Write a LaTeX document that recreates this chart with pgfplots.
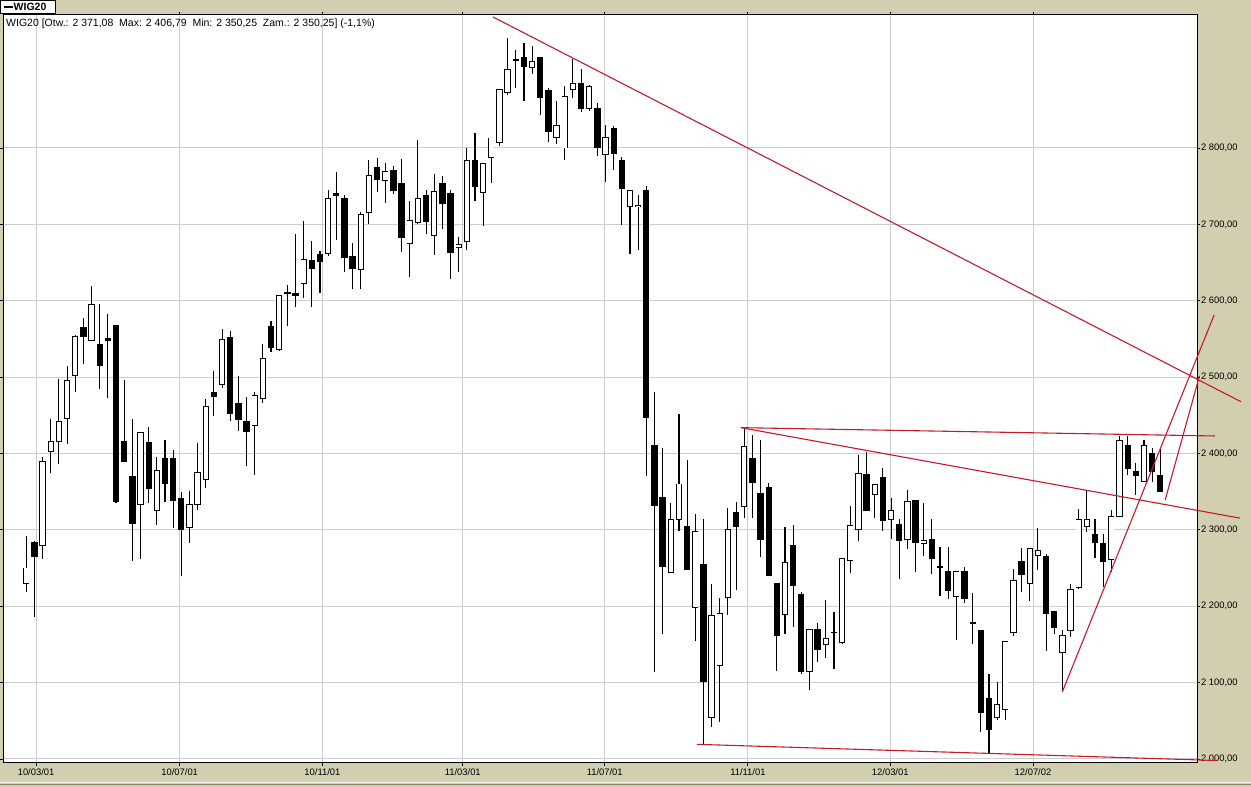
\documentclass[border=0pt]{standalone}
\usepackage{pgfplots}
\pgfplotsset{compat=1.18}
\usepackage{pgfplotstable}
\usepackage{fontspec}
\setmainfont{Liberation Sans}
\definecolor{bgbeige}{RGB}{210,206,176}
\definecolor{gridgray}{RGB}{205,205,205}
\definecolor{trendred}{RGB}{200,25,40}

\pgfplotstableread{
i O H L C
1 2230 2292 2218 2250
2 2283 2286 2186 2265
3 2280 2396 2262 2390
4 2403 2445 2374 2416
5 2416 2498 2386 2442
6 2446 2514 2412 2496
7 2502 2555 2481 2553
8 2565 2577 2517 2553
9 2548 2619 2548 2595
10 2543 2596 2484 2515
11 2551 2583 2473 2548
12 2567 2568 2335 2337
13 2416 2496 2390 2390
14 2370 2445 2259 2308
15 2333 2428 2262 2428
16 2415 2435 2335 2354
17 2325 2395 2307 2378
18 2393 2418 2337 2361
19 2394 2404 2302 2339
20 2341 2349 2239 2300
21 2303 2351 2283 2333
22 2333 2414 2326 2375
23 2366 2471 2355 2461
24 2480 2508 2449 2474
25 2490 2563 2486 2549
26 2552 2561 2442 2452
27 2465 2502 2429 2444
28 2442 2474 2383 2429
29 2437 2480 2372 2476
30 2472 2543 2466 2524
31 2566 2573 2533 2539
32 2536 2607 2534 2607
33 2611 2620 2567 2610
34 2609 2687 2592 2607
35 2622 2704 2604 2654
36 2653 2678 2592 2642
37 2661 2665 2610 2651
38 2662 2745 2659 2734
39 2740 2769 2680 2738
40 2734 2739 2637 2656
41 2658 2675 2615 2642
42 2641 2716 2615 2713
43 2716 2784 2700 2764
44 2775 2787 2742 2759
45 2758 2780 2728 2769
46 2771 2776 2740 2744
47 2754 2785 2664 2683
48 2675 2731 2631 2705
49 2702 2810 2700 2734
50 2738 2745 2687 2704
51 2685 2766 2660 2743
52 2754 2763 2694 2727
53 2741 2745 2628 2663
54 2670 2684 2638 2673
55 2677 2800 2667 2783
56 2784 2820 2730 2749
57 2742 2779 2698 2779
58 2788 2813 2754 2813
59 2807 2877 2802 2877
60 2873 2944 2869 2903
61 2915 2928 2878 2916
62 2918 2937 2862 2907
63 2905 2933 2897 2913
64 2919 2919 2843 2866
65 2875 2878 2808 2822
66 2814 2862 2805 2829
67 2800 2881 2784 2867
68 2876 2917 2865 2884
69 2884 2903 2847 2852
70 2852 2883 2849 2880
71 2852 2859 2790 2801
72 2792 2830 2755 2814
73 2826 2829 2771 2793
74 2783 2788 2699 2747
75 2723 2744 2661 2744
76 2723 2738 2667 2725
77 2744 2750 2370 2447
78 2411 2480 2114 2332
79 2343 2407 2163 2252
80 2244 2335 2244 2314
81 2314 2452 2299 2360
82 2305 2391 2248 2248
83 2198 2321 2154 2298
84 2254 2314 2019 2101
85 2054 2229 2042 2188
86 2122 2211 2049 2191
87 2211 2329 2189 2301
88 2323 2336 2221 2305
89 2331 2434 2315 2409
90 2393 2424 2315 2362
91 2348 2418 2265 2288
92 2356 2361 2240 2240
93 2230 2230 2115 2162
94 2189 2304 2164 2257
95 2279 2306 2173 2227
96 2216 2219 2111 2115
97 2114 2169 2090 2169
98 2169 2178 2127 2144
99 2150 2208 2132 2158
100 2165 2192 2118 2166
101 2152 2262 2150 2262
102 2260 2331 2243 2306
103 2300 2398 2286 2374
104 2372 2402 2325 2325
105 2346 2359 2316 2359
106 2369 2381 2298 2312
107 2314 2342 2288 2325
108 2307 2314 2236 2286
109 2287 2352 2275 2337
110 2338 2338 2245 2284
111 2282 2335 2266 2286
112 2287 2314 2242 2262
113 2252 2278 2213 2251
114 2245 2277 2209 2221
115 2213 2245 2156 2245
116 2246 2252 2204 2210
117 2179 2217 2150 2178
118 2168 2168 2035 2061
119 2079 2111 2008 2038
120 2054 2101 2051 2071
121 2065 2154 2051 2154
122 2166 2249 2161 2234
123 2259 2276 2218 2241
124 2230 2276 2207 2276
125 2266 2303 2248 2273
126 2265 2268 2142 2190
127 2193 2193 2163 2172
128 2140 2169 2088 2162
129 2168 2229 2160 2222
130 2225 2327 2223 2314
131 2304 2351 2297 2314
132 2294 2314 2263 2283
133 2282 2294 2225 2258
134 2261 2326 2245 2317
135 2318 2423 2318 2417
136 2410 2423 2372 2380
137 2376 2388 2345 2371
138 2363 2417 2363 2411
139 2400 2407 2363 2376
140 2371.08 2406.79 2350.25 2350.25
}\candles

\begin{document}
\begin{tikzpicture}[x=1bp,y=1bp]
\useasboundingbox (0,0) rectangle (1251,787);
\fill[bgbeige] (0,0) rectangle (1251,787);
\draw[white!80!bgbeige, line width=1.6bp] (0,4.5) -- (1251,4.5);
\draw[black!35!bgbeige, line width=1bp] (0,2.8) -- (1251,2.8);
\begin{axis}[
  at={(3bp,24bp)}, anchor=south west,
  width=1194bp, height=748bp, scale only axis,
  xmin=-1.856, xmax=144.5, ymin=1994.76, ymax=2974.1,
  axis background/.style={fill=white},
  clip=false,
  xtick={2.2,19.8,37.3,54.5,71.9,89.45,106.9,124.4},
  xticklabels={10/03/01,10/07/01,10/11/01,11/03/01,11/07/01,11/11/01,12/03/01,12/07/02},
  ytick={2000,2100,2200,2300,2400,2500,2600,2700,2800},
  yticklabels={{2 000,00},{2 100,00},{2 200,00},{2 300,00},{2 400,00},{2 500,00},{2 600,00},{2 700,00},{2 800,00}},
  yticklabel pos=right,
  tick align=outside, major tick length=3bp,
  tick style={black, line width=0.8bp},
  grid=major, major grid style={gridgray, line width=1bp},
  axis line style={black, line width=1bp},
  ticklabel style={font=\fontsize{9.4bp}{11bp}\selectfont, text=black},
  yticklabel style={anchor=west, xshift=-2.5bp},
  xticklabel style={yshift=1bp},
]
% wicks
\addplot[draw=none, mark=none, forget plot,
  error bars/.cd, y dir=plus, y explicit, error mark=none,
  error bar style={draw=black, line width=1.1bp}]
  table[x=i, y=L, y error plus expr=\thisrow{H}-\thisrow{L}] {\candles};
% down bodies (black)
\addplot[draw=none, mark=none, forget plot,
  restrict expr to domain={\thisrow{O}-\thisrow{C}}{0.0001:10000},
  error bars/.cd, y dir=plus, y explicit, error mark=none,
  error bar style={draw=black, line width=6.3bp, shorten <=-0.5bp, shorten >=-0.5bp}]
  table[x=i, y=C, y error plus expr=\thisrow{O}-\thisrow{C}] {\candles};
% up bodies outline
\addplot[draw=none, mark=none, forget plot,
  restrict expr to domain={\thisrow{C}-\thisrow{O}}{0:10000},
  error bars/.cd, y dir=plus, y explicit, error mark=none,
  error bar style={draw=black, line width=6.3bp, shorten <=-0.5bp, shorten >=-0.5bp}]
  table[x=i, y=O, y error plus expr=\thisrow{C}-\thisrow{O}] {\candles};
% up bodies inside
\addplot[draw=none, mark=none, forget plot,
  restrict expr to domain={\thisrow{C}-\thisrow{O}}{2:10000},
  error bars/.cd, y dir=plus, y explicit, error mark=none,
  error bar style={draw=white, line width=4.5bp, shorten <=0.45bp, shorten >=0.45bp}]
  table[x=i, y=O, y error plus expr=\thisrow{C}-\thisrow{O}] {\candles};
% trend lines
\addplot[trendred, line width=1.1bp, mark=none, forget plot] coordinates {(58.2,2971.5) (149.9,2467.7)};
\addplot[trendred, line width=1.1bp, mark=none, forget plot] coordinates {(88.6,2433.8) (146.7,2422.9)};
\addplot[trendred, line width=1.1bp, mark=none, forget plot] coordinates {(88.6,2433.8) (149.8,2315.3)};
\addplot[trendred, line width=1.1bp, mark=none, forget plot] coordinates {(83.2,2019.2) (147.0,1998.0)};
\addplot[trendred, line width=1.1bp, mark=none, forget plot] coordinates {(128.0,2088.1) (146.6,2581.3)};
\addplot[trendred, line width=1.1bp, mark=none, forget plot] coordinates {(140.6,2339.1) (144.8,2501.5)};
\end{axis}
\node[anchor=west, inner sep=0, font=\fontsize{10.5bp}{12bp}\selectfont] at (6,763) {WIG20 [Otw.: 2 371,08\ \ Max: 2 406,79\ \ Min: 2 350,25\ \ Zam.: 2 350,25] (-1,1\%)};
\draw[black, line width=0.9bp, fill=white] (0.5,786.5) rectangle (55,773.5);
\draw[black, line width=1.2bp] (3.5,780) -- (12.5,780);
\node[anchor=west, inner sep=0, font=\bfseries\fontsize{10.5bp}{12bp}\selectfont] at (13.5,780) {WIG20};
\end{tikzpicture}
\end{document}
